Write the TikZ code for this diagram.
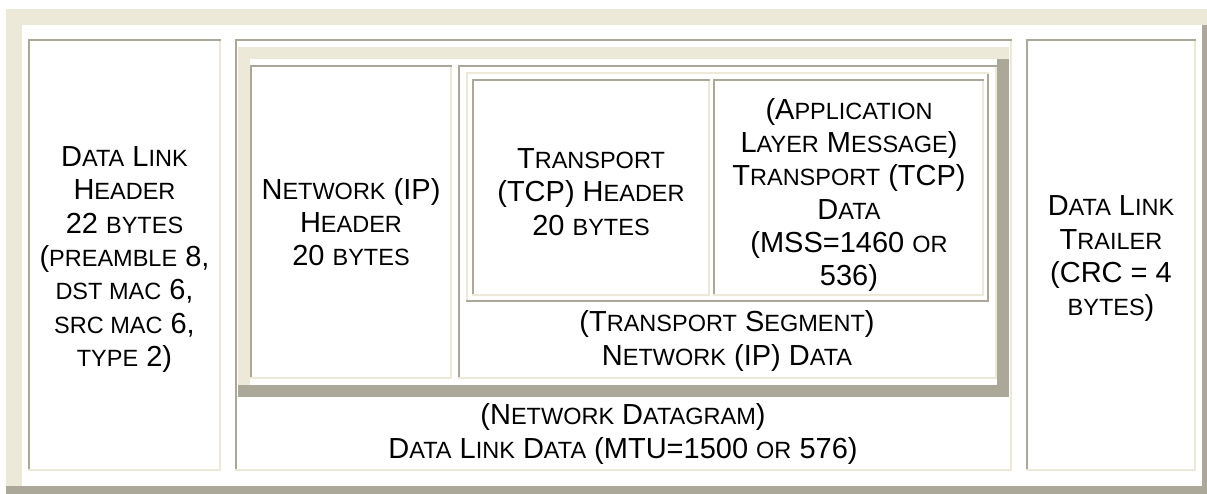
\documentclass[tikz,border=0pt]{standalone}
\usepackage{fontspec}
\setmainfont{Liberation Sans}

\definecolor{bevlight}{HTML}{ECE9D8}
\definecolor{bevdark}{HTML}{ACA899}

% body text of the cells, with small capitals faked at about 80% size
\newcommand\cellfont{\fontsize{29pt}{33.3pt}\selectfont\lineskiplimit=-1000pt\lineskip=0pt\relax}
\newcommand\smcap[1]{{\fontsize{23.5pt}{33.3pt}\selectfont #1}}
\newcommand\lstrut{\rule[-8pt]{0pt}{36.8pt}}

% bevelled frame: x1 y1 x2 y2 width top-left-colour bottom-right-colour
\newcommand\bevelbox[7]{%
  \fill[#6] (#1,#2) rectangle (#3,#2+#5);
  \fill[#6] (#1,#2) rectangle (#1+#5,#4);
  \fill[#7] (#3-#5,#2+#5) rectangle (#3,#4);
  \fill[#7] (#1,#4-#5) rectangle (#3,#4);
}

\tikzset{celltext/.style={font=\cellfont, align=center, inner sep=0pt, text=black}}

\begin{document}
\begin{tikzpicture}[x=1pt,y=-1pt]
\useasboundingbox (0,0) rectangle (1207,494);
\fill[white] (0,0) rectangle (1207,494);
\begin{scope}
\clip (0,0) rectangle (1207,494);

% outer frame of the frame layout
\bevelbox{6}{9}{1218}{502}{16}{bevlight}{bevdark}

% three outer cells
\bevelbox{28}{39}{221}{471}{2}{bevdark}{bevlight}
\bevelbox{235}{39}{1012}{471}{2}{bevdark}{bevlight}
\bevelbox{1026}{39}{1196}{471}{2}{bevdark}{bevlight}

% network datagram frame
\bevelbox{238}{47}{1009}{397}{12}{bevlight}{bevdark}
\bevelbox{250}{65}{452}{379}{2}{bevdark}{bevlight}
\bevelbox{458}{65}{997}{379}{2}{bevdark}{bevlight}

% transport segment frame
\bevelbox{466}{72}{989}{302}{2}{bevlight}{bevdark}
\bevelbox{472}{79}{710}{296}{2}{bevdark}{bevlight}
\bevelbox{713}{79}{984}{296}{2}{bevdark}{bevlight}
\end{scope}

% cell texts
\node[celltext] (dlheader) at (124.5,256) {%
  \lstrut D\smcap{ATA} L\smcap{INK}\\
  \lstrut H\smcap{EADER}\\
  \lstrut 22 \smcap{BYTES}\\
  \lstrut (\smcap{PREAMBLE} 8,\\
  \lstrut \smcap{DST MAC} 6,\\
  \lstrut \smcap{SRC MAC} 6,\\
  \lstrut \smcap{TYPE} 2)};

\node[celltext] (ipheader) at (351,222) {%
  \lstrut N\smcap{ETWORK} (IP)\\
  \lstrut H\smcap{EADER}\\
  \lstrut 20 \smcap{BYTES}};

\node[celltext] (tcpheader) at (591,191.5) {%
  \lstrut T\smcap{RANSPORT}\\
  \lstrut (TCP) H\smcap{EADER}\\
  \lstrut 20 \smcap{BYTES}};

\node[celltext] (tcpdata) at (849,192) {%
  \lstrut (A\smcap{PPLICATION}\\
  \lstrut L\smcap{AYER} M\smcap{ESSAGE})\\
  \lstrut T\smcap{RANSPORT} (TCP)\\
  \lstrut D\smcap{ATA}\\
  \lstrut (MSS=1460 \smcap{OR}\\
  \lstrut 536)};

\node[celltext] (ipdata) at (727,338) {%
  \lstrut (T\smcap{RANSPORT} S\smcap{EGMENT})\\
  \lstrut N\smcap{ETWORK} (IP) D\smcap{ATA}};

\node[celltext] (dldata) at (623,431) {%
  \lstrut (N\smcap{ETWORK} D\smcap{ATAGRAM})\\
  \lstrut D\smcap{ATA} L\smcap{INK} D\smcap{ATA} (MTU=1500 \smcap{OR} 576)};

\node[celltext] (dltrailer) at (1111,255.5) {%
  \lstrut D\smcap{ATA} L\smcap{INK}\\
  \lstrut T\smcap{RAILER}\\
  \lstrut (CRC = 4\\
  \lstrut \smcap{BYTES})};
\end{tikzpicture}
\end{document}
